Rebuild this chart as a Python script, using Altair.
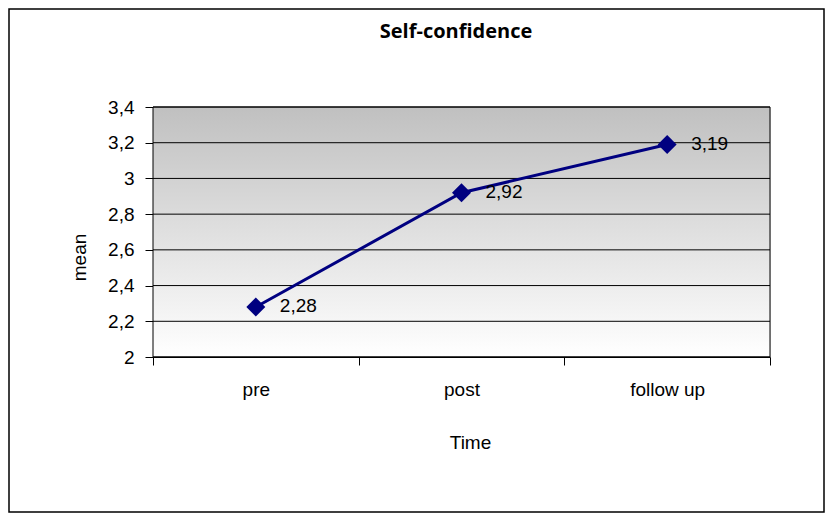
import altair as alt
import pandas as pd

# Data
times = ["pre", "post", "follow up"]
means = [2.28, 2.92, 3.19]
value_labels = ["2,28", "2,92", "3,19"]
y_ticks = [2.0, 2.2, 2.4, 2.6, 2.8, 3.0, 3.2, 3.4]
chart_title = "Self-confidence"

df = pd.DataFrame({"time": times, "mean": means, "label": value_labels})
grid_df = pd.DataFrame({"mean": y_ticks})
one_df = pd.DataFrame({"t": [chart_title]})

PLOT_W, PLOT_H = 617, 250
PAD_L, PAD_T, PAD_R, PAD_B = 145, 99, 55, 156

NAVY = "#000080"
FONT = "Liberation Sans"
FS = 19

y_scale = alt.Scale(domain=[2, 3.4], nice=False, zero=False)

x_enc = alt.X(
    "time:N",
    sort=times,
    scale=alt.Scale(paddingInner=0, paddingOuter=0),
    axis=alt.Axis(
        title="Time",
        labelAngle=0,
        labelFontSize=FS,
        labelFont=FONT,
        labelColor="black",
        labelPadding=15,
        tickBand="extent",
        tickColor="black",
        tickSize=8,
        domainColor="black",
        grid=False,
        titleFont=FONT,
        titleFontSize=FS,
        titleFontWeight="normal",
        titleColor="black",
        titleX=317,
        titleY=91,
        titleAlign="center",
        titleBaseline="alphabetic",
    ),
)

y_axis = alt.Axis(
    title="mean",
    values=y_ticks,
    labelExpr="replace(format(datum.value, '.1~f'), '.', ',')",
    labelFontSize=FS,
    labelFont=FONT,
    labelColor="black",
    labelPadding=11,
    tickColor="black",
    tickSize=8,
    domainColor="black",
    grid=False,
    titleFont=FONT,
    titleFontSize=FS,
    titleFontWeight="normal",
    titleColor="black",
    titleAngle=270,
    titleX=-68,
    titleY=150,
    titleAlign="center",
    titleBaseline="alphabetic",
)

y_enc = alt.Y("mean:Q", scale=y_scale, axis=y_axis)

# Excel-like gradient plot background
background = alt.Chart(one_df).mark_rect(
    color=alt.LinearGradient(
        gradient="linear",
        x1=0, y1=0, x2=0, y2=1,
        stops=[
            alt.GradientStop(offset=0, color="#c0c0c0"),
            alt.GradientStop(offset=1, color="#ffffff"),
        ],
    ),
    stroke="black",
    strokeWidth=1,
).encode(x=alt.value(0), x2=alt.value(PLOT_W), y=alt.value(0), y2=alt.value(PLOT_H))

gridlines = alt.Chart(grid_df).mark_rule(color="black", strokeWidth=1).encode(
    y=y_enc, x=alt.value(0), x2=alt.value(PLOT_W)
)

base = alt.Chart(df).encode(x=x_enc, y=y_enc)

line = base.mark_line(color=NAVY, strokeWidth=3)
points = base.mark_point(shape="diamond", filled=True, size=360, color=NAVY, opacity=1)
labels = base.mark_text(
    align="left", baseline="middle", dx=24, dy=-1, fontSize=FS, font=FONT, color="black"
).encode(text="label:N")

title = alt.Chart(one_df).mark_text(
    font="Open Sans", fontSize=20, fontWeight="bold", color="black",
    align="center", baseline="alphabetic"
).encode(text="t:N", x=alt.value(303), y=alt.value(-69))

border = alt.Chart(one_df).mark_rect(
    fillOpacity=0, stroke="black", strokeWidth=1.5
).encode(
    x=alt.value(-144), x2=alt.value(671), y=alt.value(-98), y2=alt.value(405)
)

chart = alt.layer(border, background, gridlines, line, points, labels, title).properties(
    width=PLOT_W,
    height=PLOT_H,
    autosize=alt.AutoSizeParams(type="none"),
    padding={"left": PAD_L, "top": PAD_T, "right": PAD_R, "bottom": PAD_B},
).configure_view(stroke=None).configure(background="white")

chart.save("out.html", embed_options={"renderer": "svg", "actions": False})
